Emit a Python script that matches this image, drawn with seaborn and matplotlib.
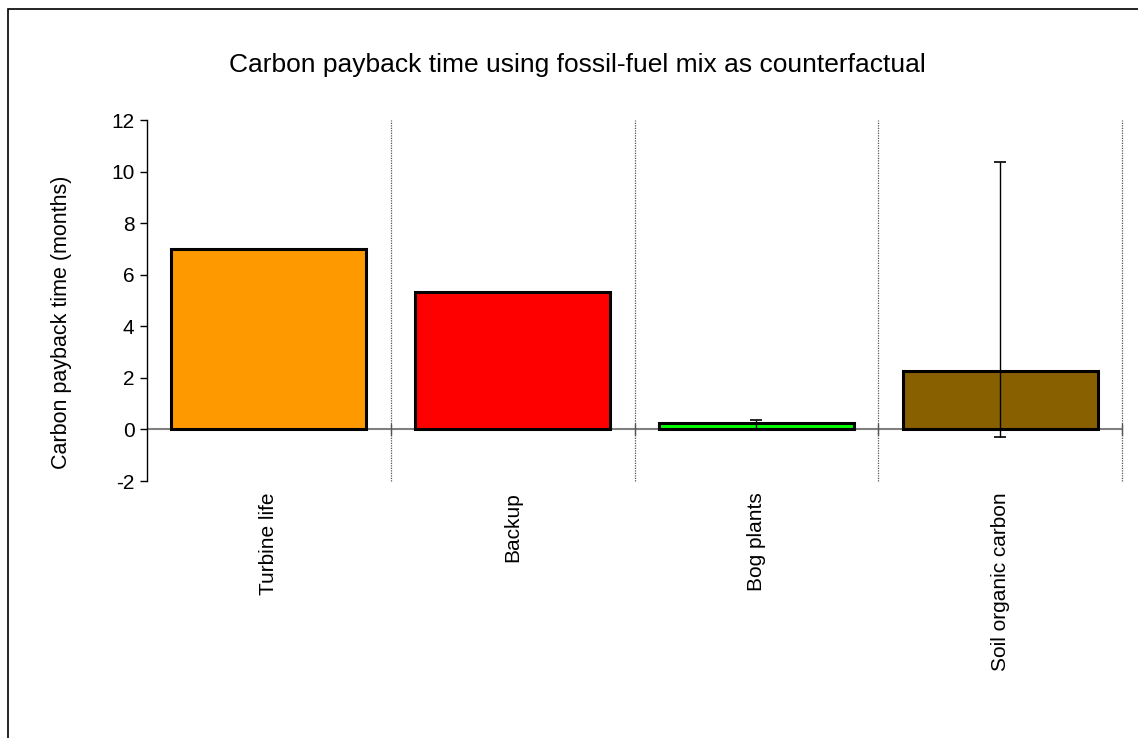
"""Carbon payback time bar chart."""
import matplotlib
matplotlib.use('Agg')
import matplotlib.pyplot as plt
import matplotlib.patches as mpatches
import numpy as np
import pandas as pd
import seaborn as sns

sns.set_theme(style='white', rc={'text.color': 'black', 'axes.labelcolor': 'black',
                                 'xtick.color': 'black', 'ytick.color': 'black',
                                 'axes.unicode_minus': False})
plt.rcParams['font.family'] = ['Liberation Sans', 'DejaVu Sans']

categories = ['Turbine life', 'Backup', 'Bog plants', 'Soil organic carbon']
payback = [7.0, 5.32, 0.24, 2.26]
err_low = [0.01, 0.0, 0.24, 2.56]
err_high = [0.01, 0.0, 0.13, 8.1]
bar_colors = ['#FF9900', '#FF0000', '#00FF00', '#886000']

df = pd.DataFrame({'category': categories, 'payback': payback})

fig = plt.figure(figsize=(11.38, 7.38), dpi=100)
ax = fig.add_axes([147 / 1138, 1 - 481 / 738, 975 / 1138, 361 / 738])

# zero line and dotted category separators behind the bars
ax.axhline(0, color='#808080', linewidth=1.5, zorder=0.5)
for b in np.arange(0.5, len(categories) + 0.5, 1.0):
    ax.axvline(b, color='#555555', linewidth=0.9, linestyle=(0, (1, 1)),
               zorder=0, clip_on=False)
    ax.plot([b, b], [-0.2, 0.2], color='#555555', linewidth=1, zorder=0.6,
            clip_on=False)

sns.barplot(data=df, x='category', y='payback', hue='category',
            palette=bar_colors, saturation=1, edgecolor='black', linewidth=2.2,
            width=0.8, legend=False, ax=ax, zorder=2)
ax.errorbar(np.arange(len(categories)), payback,
            yerr=[err_low, err_high], fmt='none', ecolor='black',
            elinewidth=1, capsize=4, capthick=1.2, zorder=5)

ax.set_xlim(-0.5, len(categories) - 0.5)
ax.set_ylim(-2, 12)
ax.set_yticks(range(-2, 13, 2))
ax.tick_params(axis='y', direction='out', length=5, width=1, color='black',
               labelsize=15, left=True, pad=4)
ax.tick_params(axis='x', length=0, labelsize=15, pad=8)
ax.set_xticks(range(len(categories)))
ax.set_xticklabels(categories, rotation=90, va='top')

for s in ['top', 'right', 'bottom']:
    ax.spines[s].set_visible(False)
ax.spines['left'].set_color('black')
ax.spines['left'].set_linewidth(1)

ax.set_xlabel('')
ax.set_ylabel('Carbon payback time (months)', fontsize=15.5)
ax.yaxis.set_label_coords(-0.077, 0.44)
fig.text(577 / 1138, 1 - 65 / 738,
         'Carbon payback time using fossil-fuel mix as counterfactual',
         ha='center', va='center', fontsize=19)

# outer frame
fig.patches.append(mpatches.Rectangle((8 / 1138, -0.1), 1.2, 1 - 9 / 738 + 0.1,
                                      transform=fig.transFigure, fill=False,
                                      edgecolor='black', linewidth=1.2))

fig.savefig('out.png', dpi=100, facecolor='white')
